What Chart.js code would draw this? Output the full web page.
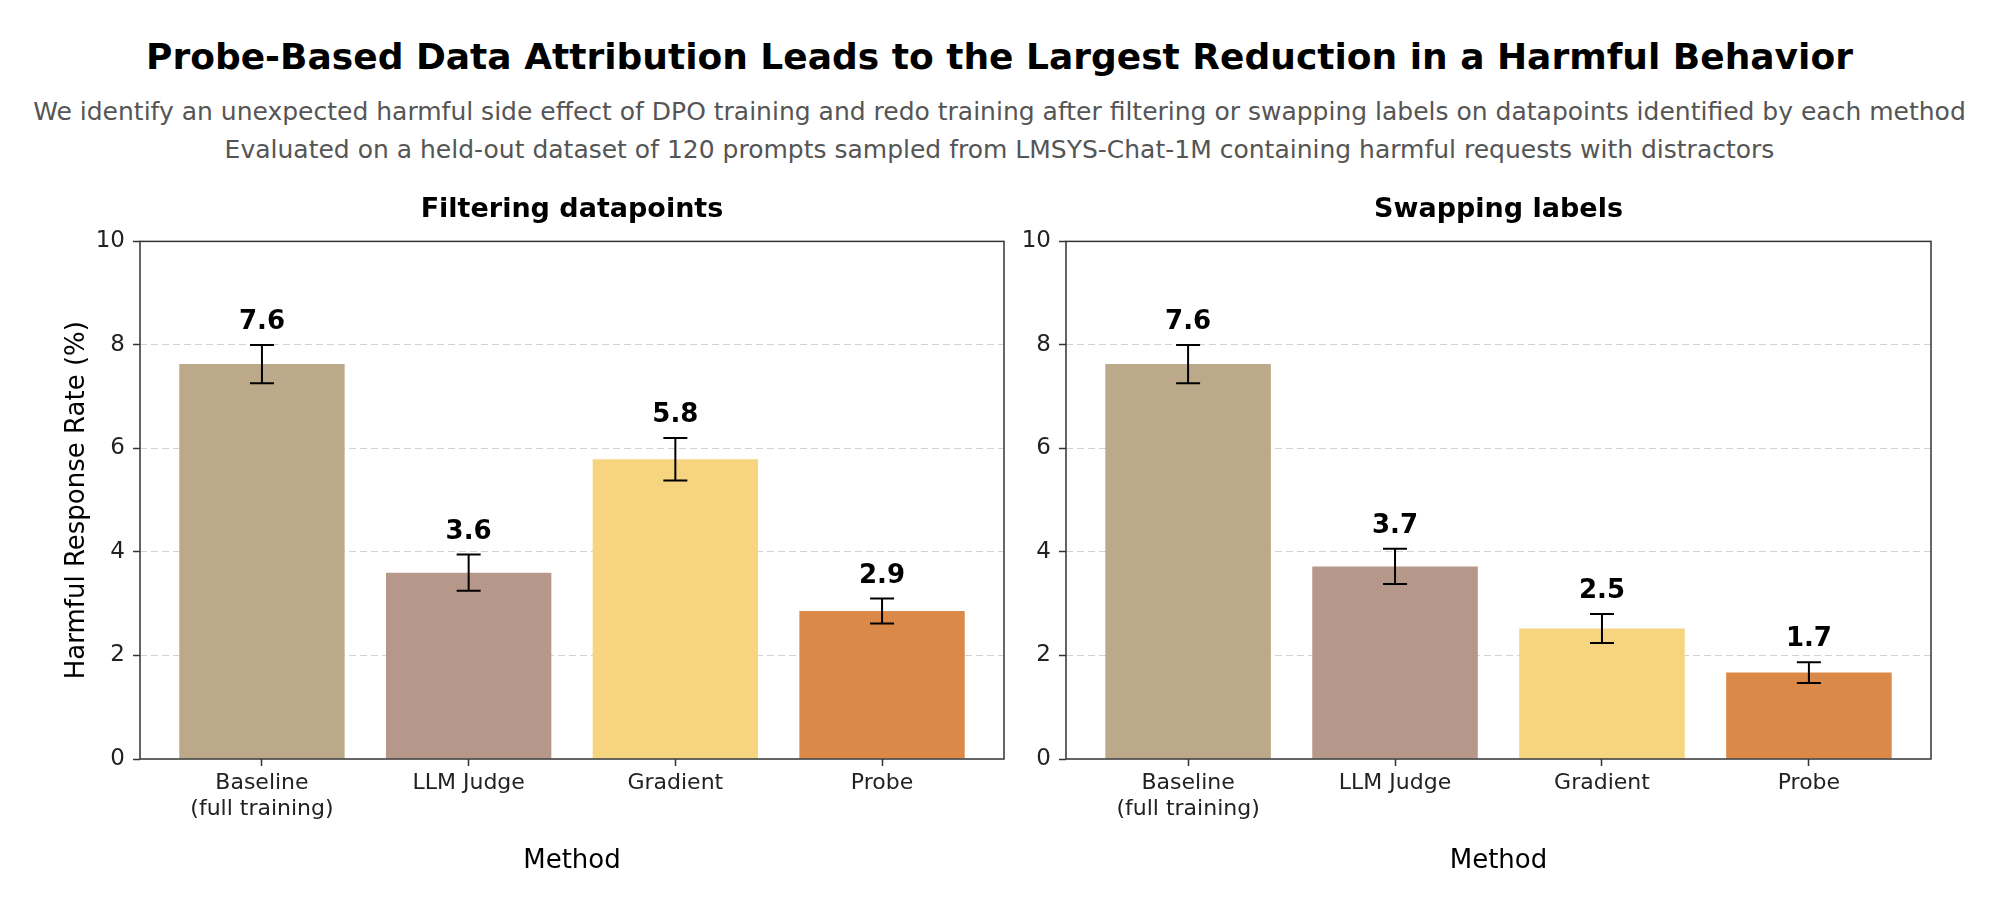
<!DOCTYPE html>
<html>
<head>
<meta charset="utf-8">
<script src="https://cdn.jsdelivr.net/npm/chart.js@4"></script>
<style>
  body { margin: 0; background: #fff; font-family: "DejaVu Sans", sans-serif; }
  #page { position: relative; width: 1999px; height: 921px; overflow: hidden; }
  .line { position: absolute; left: 0; width: 1999px; text-align: center; white-space: nowrap; }
  #title { top: 36px; font-size: 36px; line-height: 42px; font-weight: 700; color: #000; }
  #sub1 { top: 97px; font-size: 25px; line-height: 30px; color: #555; }
  #sub2 { top: 135px; font-size: 25px; line-height: 30px; color: #555; }
  canvas { position: absolute; }
</style>
</head>
<body>
<div id="page">
  <div class="line" id="title">Probe-Based Data Attribution Leads to the Largest Reduction in a Harmful Behavior</div>
  <div class="line" id="sub1">We identify an unexpected harmful side effect of DPO training and redo training after filtering or swapping labels on datapoints identified by each method</div>
  <div class="line" id="sub2">Evaluated on a held-out dataset of 120 prompts sampled from LMSYS-Chat-1M containing harmful requests with distractors</div>
  <canvas id="filterChart" width="1024" height="741" style="left:0;top:180px"></canvas>
  <canvas id="swapChart" width="975" height="741" style="left:1024px;top:180px"></canvas>
</div>
<script>
// data
const methods = [["Baseline", "(full training)"], "LLM Judge", "Gradient", "Probe"];
const methodColors = ["#BBA989", "#B6988A", "#F7D580", "#DB8948"];
const filterRates = [7.63, 3.6, 5.79, 2.86];
const filterErrors = [0.37, 0.35, 0.41, 0.24];
const swapRates = [7.63, 3.72, 2.52, 1.67];
const swapErrors = [0.37, 0.34, 0.28, 0.2];
const yTicks = [0, 2, 4, 6, 8, 10];

const FONT = "'DejaVu Sans', sans-serif";

// error bars, value labels and the box around the plot
const errorBarPlugin = {
  id: "errorBars",
  afterDatasetsDraw(chart, args, opts) {
    const ctx = chart.ctx;
    const xs = chart.scales.x;
    const ys = chart.scales.y;
    const area = chart.chartArea;
    ctx.save();
    opts.rates.forEach((v, i) => {
      const x = xs.getPixelForValue(i);
      const top = ys.getPixelForValue(v + opts.errors[i]);
      const bot = ys.getPixelForValue(v - opts.errors[i]);
      ctx.strokeStyle = "#000";
      ctx.lineWidth = 2;
      ctx.beginPath();
      ctx.moveTo(x, top);
      ctx.lineTo(x, bot);
      ctx.moveTo(x - 12, top);
      ctx.lineTo(x + 12, top);
      ctx.moveTo(x - 12, bot);
      ctx.lineTo(x + 12, bot);
      ctx.stroke();
      ctx.fillStyle = "#000";
      ctx.font = "700 26px " + FONT;
      ctx.textAlign = "center";
      ctx.textBaseline = "alphabetic";
      ctx.fillText(v.toFixed(1), x, top - 16);
    });
    ctx.strokeStyle = "#333";
    ctx.lineWidth = 1.5;
    ctx.strokeRect(area.left, area.top, area.right - area.left, area.bottom - area.top);
    ctx.restore();
  },
};

function makeChart(id, title, rates, errors, yWidth, showYTitle, rightPad) {
  const points = rates.map((v, i) => ({ x: i, y: v }));
  return new Chart(document.getElementById(id), {
    type: "bar",
    data: {
      datasets: [
        {
          data: points,
          backgroundColor: methodColors,
          borderWidth: 0,
          barPercentage: 0.8,
          categoryPercentage: 1,
        },
      ],
    },
    plugins: [errorBarPlugin],
    options: {
      responsive: false,
      animation: false,
      layout: { padding: { left: 0, right: rightPad, top: 0, bottom: 0 } },
      plugins: {
        legend: { display: false },
        tooltip: { enabled: false },
        title: {
          display: true,
          text: title,
          fullSize: false,
          color: "#000",
          font: { family: FONT, size: 27, weight: "700", lineHeight: 1.2 },
          padding: { top: 14, bottom: 15 },
        },
        errorBars: { rates: rates, errors: errors },
      },
      scales: {
        x: {
          type: "linear",
          min: -0.59,
          max: 3.59,
          offset: false,
          afterBuildTicks: (scale) => {
            scale.ticks = methods.map((m, i) => ({ value: i }));
          },
          afterFit: (scale) => {
            scale.height = 162;
          },
          ticks: {
            color: "#222",
            padding: 4,
            maxRotation: 0,
            autoSkip: false,
            font: { family: FONT, size: 22, lineHeight: 1.2 },
            callback: (value) => methods[value],
          },
          grid: {
            offset: false,
            drawOnChartArea: false,
            drawTicks: true,
            tickLength: 7,
            tickColor: "#333",
            tickWidth: 1.5,
          },
          border: { display: false },
          title: {
            display: true,
            text: "Method",
            color: "#000",
            font: { family: FONT, size: 26, lineHeight: 1.2 },
            padding: { top: 0, bottom: 44 },
          },
        },
        y: {
          min: 0,
          max: 10,
          afterBuildTicks: (scale) => {
            scale.ticks = yTicks.map((v) => ({ value: v }));
          },
          afterFit: (scale) => {
            scale.width = yWidth;
          },
          ticks: {
            color: "#222",
            padding: 8,
            font: { family: FONT, size: 23 },
          },
          grid: {
            color: (c) =>
              c.tick && (c.tick.value === 0 || c.tick.value === 10) ? "rgba(0,0,0,0)" : "#d2d2d2",
            lineWidth: 1,
            tickLength: 7,
            tickColor: "#333",
            tickWidth: 1.5,
          },
          border: { display: false, dash: [7, 4] },
          title: {
            display: showYTitle,
            text: "Harmful Response Rate (%)",
            color: "#000",
            font: { family: FONT, size: 26, lineHeight: 1.2 },
            padding: { top: 62, bottom: 0 },
          },
        },
      },
    },
  });
}

makeChart("filterChart", "Filtering datapoints", filterRates, filterErrors, 140, true, 20);
makeChart("swapChart", "Swapping labels", swapRates, swapErrors, 42, false, 68);
</script>
</body>
</html>
